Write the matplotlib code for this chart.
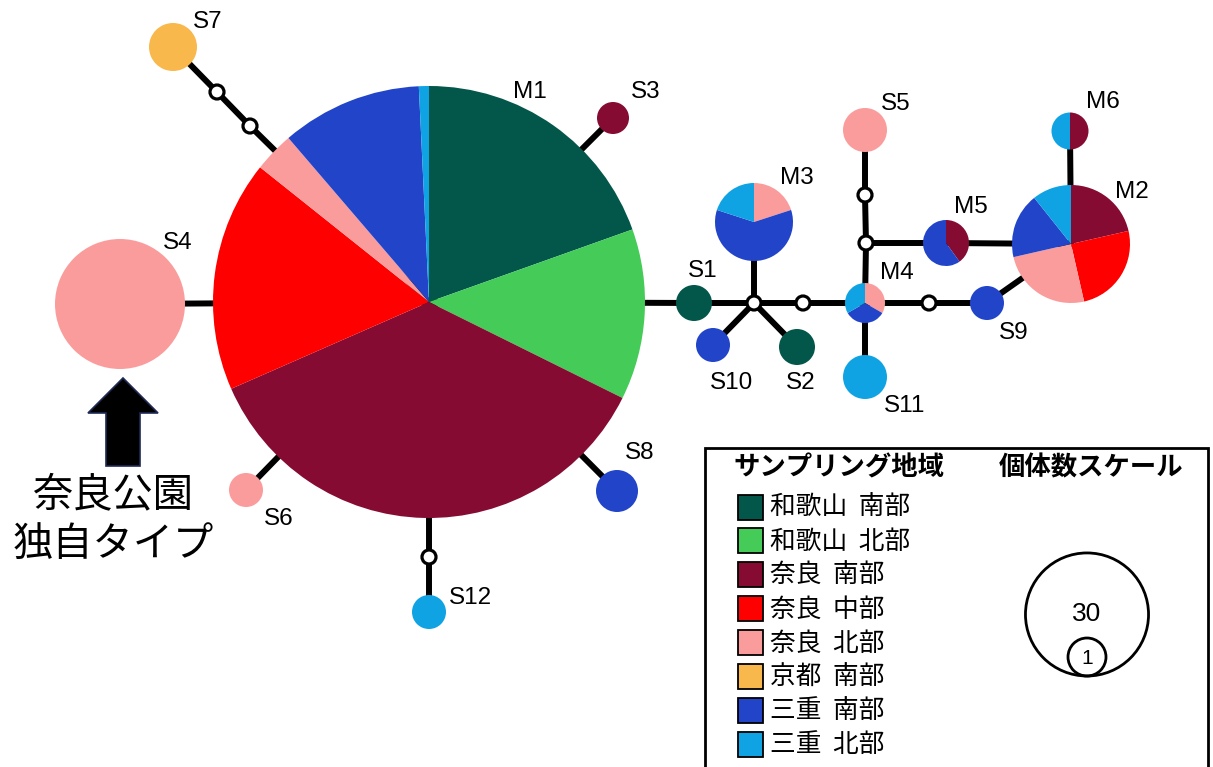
import matplotlib
matplotlib.use("Agg")
import matplotlib.pyplot as plt
from matplotlib.patches import Circle, Rectangle, FancyArrow

plt.rcParams['font.family'] = ['Liberation Sans', 'Noto Sans CJK JP', 'DejaVu Sans']
JP = ['Noto Sans CJK JP', 'DejaVu Sans']

# ---- sampling regions (legend order) ----
regions = ["和歌山  南部", "和歌山  北部", "奈良  南部", "奈良  中部",
           "奈良  北部", "京都  南部", "三重  南部", "三重  北部"]
region_colors = ["#03574A", "#45CB57", "#860B33", "#FF0000",
                 "#FB9C9C", "#F8B84C", "#2244C9", "#0FA3E3"]

# ---- individuals per haplotype, one value per region (legend order) ----
M1 = [26, 17, 48, 23, 4, 0, 14, 1]
M2 = [0, 0, 6, 7, 7, 0, 5, 3]
M3 = [0, 0, 0, 0, 1, 0, 3, 1]
M4 = [0, 0, 0, 0, 1, 0, 1, 1]
M5 = [0, 0, 2, 0, 0, 0, 3, 0]
M6 = [0, 0, 1, 0, 0, 0, 0, 1]
S1 = [1, 0, 0, 0, 0, 0, 0, 0]
S2 = [1, 0, 0, 0, 0, 0, 0, 0]
S3 = [0, 0, 1, 0, 0, 0, 0, 0]
S4 = [0, 0, 0, 0, 12, 0, 0, 0]
S5 = [0, 0, 0, 0, 1, 0, 0, 0]
S6 = [0, 0, 0, 0, 1, 0, 0, 0]
S7 = [0, 0, 0, 0, 0, 1, 0, 0]
S8 = [0, 0, 0, 0, 0, 0, 1, 0]
S9 = [0, 0, 0, 0, 0, 0, 1, 0]
S10 = [0, 0, 0, 0, 0, 0, 1, 0]
S11 = [0, 0, 0, 0, 0, 0, 0, 1]
S12 = [0, 0, 0, 0, 0, 0, 0, 1]

haplotype_counts = {"M1": M1, "M2": M2, "M3": M3, "M4": M4, "M5": M5, "M6": M6,
                    "S1": S1, "S2": S2, "S3": S3, "S4": S4, "S5": S5, "S6": S6,
                    "S7": S7, "S8": S8, "S9": S9, "S10": S10, "S11": S11, "S12": S12}

# scale legend entries (individuals)
scale_values = [30, 1]

# ---- network layout: node centre (x, y from top) and drawn radius ----
layout = {
    "M1": (429, 302, 216), "M2": (1071, 244, 59), "M3": (754, 222, 39),
    "M4": (865, 303, 20), "M5": (946, 243, 23), "M6": (1070, 131, 18.5),
    "S1": (694, 303, 18), "S2": (797, 347, 18), "S3": (613, 118, 16),
    "S4": (120, 304, 65), "S5": (865, 130, 22), "S6": (246, 490, 17),
    "S7": (173, 47, 24), "S8": (617, 491, 21), "S9": (987, 303, 17),
    "S10": (713, 345, 17), "S11": (865, 377, 22), "S12": (429, 612, 17),
}
# unsampled (median) vertices
hidden = {"h1": (217, 92), "h2": (250, 126), "h3": (429, 557), "h4": (754, 303),
          "h5": (803, 303), "h6": (866, 243), "h7": (865, 195), "h8": (929, 303)}
edges = [("M1", "S4"), ("S7", "h1"), ("h1", "h2"), ("h2", "M1"), ("M1", "S3"),
         ("M1", "S6"), ("M1", "S8"), ("M1", "h3"), ("h3", "S12"), ("M1", "S1"),
         ("S1", "h4"), ("h4", "M3"), ("h4", "S10"), ("h4", "S2"), ("h4", "h5"),
         ("h5", "M4"), ("M4", "h6"), ("h6", "h7"), ("h7", "S5"), ("h6", "M5"),
         ("M5", "M2"), ("M4", "S11"), ("M4", "h8"), ("h8", "S9"), ("S9", "M2"),
         ("M2", "M6")]
label_pos = {
    "M1": (530, 92), "M2": (1132, 192), "M3": (797, 178), "M4": (897, 273),
    "M5": (971, 207), "M6": (1103, 102), "S1": (703, 271), "S2": (801, 383),
    "S3": (646, 92), "S4": (178, 243), "S5": (896, 104), "S6": (279, 519),
    "S7": (208, 22), "S8": (640, 453), "S9": (1014, 333), "S10": (732, 383),
    "S11": (905, 406), "S12": (470, 598),
}


def scale_radius(n):
    return 19.0 * n ** 0.3455


def xy(name):
    if name in layout:
        return layout[name][:2]
    return hidden[name]


W, H = 1213, 767
fig = plt.figure(figsize=(W / 100, H / 100), dpi=100)
ax = fig.add_axes([0, 0, 1, 1])

# edges
for a, b in edges:
    (x0, y0), (x1, y1) = xy(a), xy(b)
    ax.plot([x0, x1], [y0, y1], color="black", lw=4.3, solid_capstyle="butt", zorder=1)

# haplotype pies (clockwise from 12 o'clock on the inverted y axis)
for name, (cx, cy, r) in layout.items():
    vals = haplotype_counts[name]
    ax.pie(vals, colors=region_colors, center=(cx, cy), radius=r,
           startangle=-90, counterclock=True, normalize=True,
           wedgeprops=dict(linewidth=0, zorder=2))
    lx, ly = label_pos[name]
    ax.text(lx, ly, name, ha="center", va="center", fontsize=17.5, zorder=5)

# median vertices
for hx, hy in hidden.values():
    ax.add_patch(Circle((hx, hy), 7.0, facecolor="white", edgecolor="black", lw=2.3, zorder=3))

# arrow + annotation
ax.add_patch(FancyArrow(123, 466, 0, -88, width=34, head_width=70, head_length=35,
                        length_includes_head=True, facecolor="black",
                        edgecolor="#1E2A55", lw=1.2, zorder=4))
ax.text(113, 495, "奈良公園", family=JP, fontsize=29, ha="center", va="center")
ax.text(113, 544, "独自タイプ", family=JP, fontsize=29, ha="center", va="center")

# legend box
ax.add_patch(Rectangle((705, 448), 503, 340, facecolor="white", edgecolor="black",
                       lw=2.0, zorder=4))
ax.text(839, 468, "サンプリング地域", family=JP, fontsize=19, fontweight="bold",
        ha="center", va="center", zorder=5)
ax.text(1091, 468, "個体数スケール", family=JP, fontsize=19, fontweight="bold",
        ha="center", va="center", zorder=5)
row0, step = 507, 33.9
for i, (lab, col) in enumerate(zip(regions, region_colors)):
    yy = row0 + i * step
    ax.add_patch(Rectangle((738, yy - 12.5), 25, 25, facecolor=col, edgecolor="black",
                           lw=1.3, zorder=5))
    ax.text(770, yy + 1, lab, family=JP, fontsize=18.5, ha="left", va="center", zorder=5)

# size scale: circles sharing a bottom tangent point
base_x, base_y = 1087, 676
for n in scale_values:
    rr = scale_radius(n)
    ax.add_patch(Circle((base_x, base_y - rr), rr, facecolor="none", edgecolor="black",
                        lw=2.0, zorder=5))
    ax.text(base_x, base_y - rr + (1 if n == 1 else 0), str(n), ha="center", va="center",
            fontsize=19 if n == 30 else 15, zorder=6)

ax.set_xlim(0, W)
ax.set_ylim(H, 0)
ax.set_aspect("equal")
ax.axis("off")
fig.savefig("out.png", dpi=100)
